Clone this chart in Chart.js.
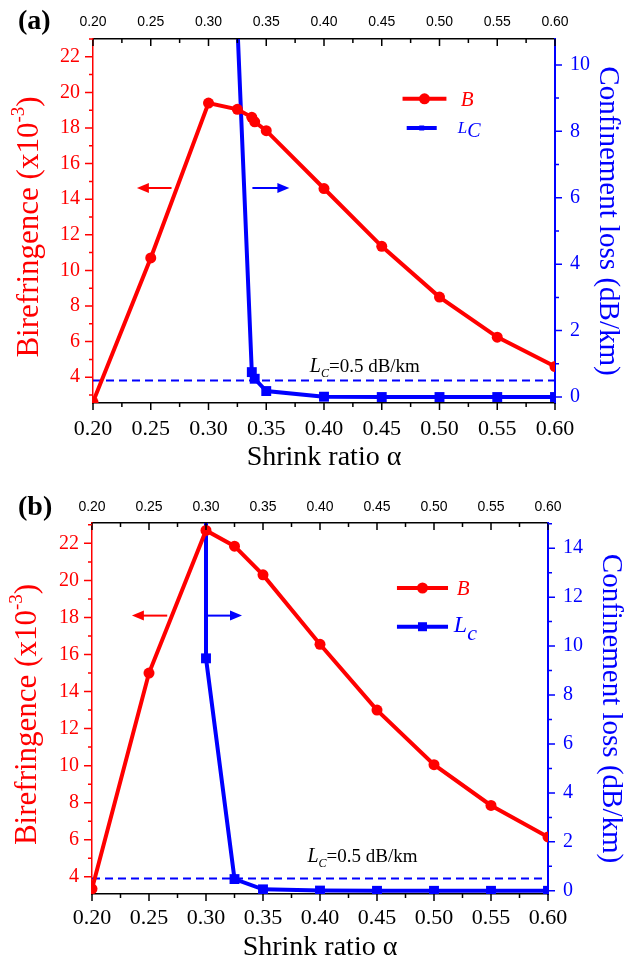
<!DOCTYPE html>
<html>
<head>
<meta charset="utf-8">
<script src="https://cdn.jsdelivr.net/npm/chart.js@4.4.1/dist/chart.umd.min.js"></script>
<style>
  body { margin: 0; background: #fff; }
  canvas { display: block; }
</style>
</head>
<body>
<canvas id="chart-a" width="632" height="476"></canvas>
<canvas id="chart-b" width="632" height="486"></canvas>
<script>
// 축 눈금 (공통)
const alphaTicks = [0.20, 0.25, 0.30, 0.35, 0.40, 0.45, 0.50, 0.55, 0.60];
const alphaMinor = [0.225, 0.275, 0.325, 0.375, 0.425, 0.475, 0.525, 0.575];
const birefTicks = [4, 6, 8, 10, 12, 14, 16, 18, 20, 22];
const birefMinor = [3, 5, 7, 9, 11, 13, 15, 17, 19, 21, 23];

// (a) 데이터
const alphaB_a = [0.20, 0.25, 0.30, 0.325, 0.3375, 0.34, 0.35, 0.40, 0.45, 0.50, 0.55, 0.60];
const biref_a = [2.6, 10.7, 19.4, 19.05, 18.6, 18.35, 17.85, 14.6, 11.35, 8.5, 6.25, 4.6];
const alphaLc_a = [0.325, 0.3375, 0.34, 0.35, 0.40, 0.45, 0.50, 0.55, 0.60];
const loss_a = [11.2, 0.75, 0.55, 0.18, 0.01, 0, 0, 0, 0];
const lossTicks_a = [0, 2, 4, 6, 8, 10];
const lossMinor_a = [1, 3, 5, 7, 9];

// (b) 데이터
const alphaB_b = [0.20, 0.25, 0.30, 0.325, 0.35, 0.40, 0.45, 0.50, 0.55, 0.60];
const biref_b = [3.35, 15.0, 22.7, 21.85, 20.3, 16.55, 13.0, 10.05, 7.85, 6.15];
const alphaLc_b = [0.30, 0.30, 0.325, 0.35, 0.40, 0.45, 0.50, 0.55, 0.60];
const loss_b = [16, 9.5, 0.48, 0.06, 0.01, 0, 0, 0, 0];
const lossTicks_b = [0, 2, 4, 6, 8, 10, 12, 14];
const lossMinor_b = [1, 3, 5, 7, 9, 11, 13, 15];

// 기준 손실 0.5 dB/km
const lcLimit = 0.5;

const SERIF = '"Liberation Serif", "Times New Roman", serif';
const SANS = '"Liberation Sans", Arial, sans-serif';
const RED = '#ff0000';
const BLUE = '#0000ff';

function toPts(xs, ys) {
    return xs.map((x, i) => ({ x, y: ys[i] }));
}

// 축 바깥/안쪽 눈금 그리기
function tickMarks(ctx, scale, values, len, color) {
    const area = scale.chart.chartArea;
    ctx.strokeStyle = color;
    ctx.lineWidth = 1.5;
    ctx.beginPath();
    values.forEach(v => {
        if (v < scale.min || v > scale.max) return;
        const p = scale.getPixelForValue(v);
        if (scale.position === 'bottom') { ctx.moveTo(p, area.bottom); ctx.lineTo(p, area.bottom + len); }
        if (scale.position === 'top') { ctx.moveTo(p, area.top); ctx.lineTo(p, area.top + len); }
        if (scale.position === 'left') { ctx.moveTo(area.left, p); ctx.lineTo(area.left - len, p); }
        if (scale.position === 'right') { ctx.moveTo(area.right, p); ctx.lineTo(area.right + len, p); }
    });
    ctx.stroke();
}

function arrow(ctx, x1, x2, y, color, headLeft) {
    const head = 12, half = 5;
    ctx.strokeStyle = color;
    ctx.fillStyle = color;
    ctx.lineWidth = 2;
    ctx.beginPath();
    if (headLeft) { ctx.moveTo(x2, y); ctx.lineTo(x1 + head - 1, y); }
    else { ctx.moveTo(x1, y); ctx.lineTo(x2 - head + 1, y); }
    ctx.stroke();
    ctx.beginPath();
    if (headLeft) { ctx.moveTo(x1, y); ctx.lineTo(x1 + head, y - half); ctx.lineTo(x1 + head, y + half); }
    else { ctx.moveTo(x2, y); ctx.lineTo(x2 - head, y - half); ctx.lineTo(x2 - head, y + half); }
    ctx.closePath();
    ctx.fill();
}

// 글자 조각(첨자 포함)을 이어서 그림
function richText(ctx, parts, x, y) {
    parts.forEach(p => {
        ctx.font = p.font;
        ctx.fillStyle = p.color;
        ctx.fillText(p.text, x, y + (p.dy || 0));
        x += ctx.measureText(p.text).width + (p.gap || 0);
    });
}

function richWidth(ctx, parts) {
    return parts.reduce((w, p) => { ctx.font = p.font; return w + ctx.measureText(p.text).width + (p.gap || 0); }, 0);
}

const panelDeco = {
    id: 'panelDeco',
    afterDraw(chart, args, o) {
        const ctx = chart.ctx;
        const { x, xTop, y, y2 } = chart.scales;
        const area = chart.chartArea;
        ctx.save();

        // 눈금
        tickMarks(ctx, x, alphaTicks, 7, '#000');
        tickMarks(ctx, x, alphaMinor, 4, '#000');
        tickMarks(ctx, xTop, alphaTicks, 7, '#000');
        tickMarks(ctx, xTop, alphaMinor, 4, '#000');
        tickMarks(ctx, y, birefTicks, 8, RED);
        tickMarks(ctx, y, birefMinor, 4, RED);
        tickMarks(ctx, y2, o.lossTicks, 7, BLUE);
        tickMarks(ctx, y2, o.lossMinor, 4, BLUE);

        // 패널 이름
        ctx.fillStyle = '#000';
        ctx.font = 'bold 28px ' + SERIF;
        ctx.textBaseline = 'alphabetic';
        ctx.fillText(o.tag, 18, o.tagY);

        // 왼쪽 축 제목 (위첨자 포함)
        const main = '31px ' + SERIF, sup = '19px ' + SERIF;
        const titleParts = [
            { text: 'Birefringence (x10', font: main, color: RED },
            { text: '-3', font: sup, color: RED, dy: -11 },
            { text: ')', font: main, color: RED }
        ];
        ctx.save();
        ctx.translate(o.leftTitleX, (area.top + area.bottom) / 2 + 6);
        ctx.rotate(-Math.PI / 2);
        ctx.textBaseline = 'middle';
        richText(ctx, titleParts, -richWidth(ctx, titleParts) / 2, 0);
        ctx.restore();

        // 방향 화살표
        const ay = y.getPixelForValue(o.arrowY);
        arrow(ctx, x.getPixelForValue(o.redArrow[0]), x.getPixelForValue(o.redArrow[1]), ay, RED, true);
        arrow(ctx, x.getPixelForValue(o.blueArrow[0]), x.getPixelForValue(o.blueArrow[1]), ay, BLUE, false);

        // 범례
        const lx1 = x.getPixelForValue(o.legendX[0]), lx2 = x.getPixelForValue(o.legendX[1]);
        const lxm = (lx1 + lx2) / 2;
        const bY = y.getPixelForValue(o.legendY[0]);
        const cY = y.getPixelForValue(o.legendY[1]);
        ctx.lineWidth = 4;
        ctx.strokeStyle = RED;
        ctx.beginPath(); ctx.moveTo(lx1, bY); ctx.lineTo(lx2, bY); ctx.stroke();
        ctx.fillStyle = RED;
        ctx.beginPath(); ctx.arc(lxm, bY, 5.5, 0, Math.PI * 2); ctx.fill();
        const cx1 = x.getPixelForValue(o.legendLcX[0]), cx2 = x.getPixelForValue(o.legendLcX[1]);
        ctx.strokeStyle = BLUE;
        ctx.beginPath(); ctx.moveTo(cx1, cY); ctx.lineTo(cx2, cY); ctx.stroke();
        ctx.fillStyle = BLUE;
        const sq = o.legendSquare;
        ctx.fillRect((cx1 + cx2) / 2 - sq / 2, cY - sq / 2, sq, sq);
        ctx.textBaseline = 'alphabetic';
        const tx = x.getPixelForValue(o.legendTextX);
        richText(ctx, [{ text: 'B', font: 'italic 21px ' + SERIF, color: RED }], tx, bY + 7);
        richText(ctx, o.lcLabel, tx - 3, cY + 5);

        // 기준선 주석
        const nx = x.getPixelForValue(o.noteAt[0]);
        const ny = y2.getPixelForValue(o.noteAt[1]);
        richText(ctx, [
            { text: 'L', font: 'italic 20px ' + SERIF, color: '#000' },
            { text: 'C', font: 'italic 12px ' + SERIF, color: '#000', dy: 5 },
            { text: '=0.5 dB/km', font: '19px ' + SERIF, color: '#000' }
        ], nx, ny);

        ctx.restore();
    }
};

function makePanel(id, cfg) {
    const H = cfg.height, W = 632, A = cfg.area;
    const tickFont = size => ({ family: SERIF, size });
    return new Chart(document.getElementById(id), {
        type: 'line',
        data: {
            datasets: [
                {
                    label: 'B', data: toPts(cfg.alphaB, cfg.biref), yAxisID: 'y',
                    borderColor: RED, backgroundColor: RED, borderWidth: 4,
                    pointStyle: 'circle', pointRadius: 5.5, pointBorderWidth: 0, tension: 0, order: 0
                },
                {
                    label: 'Lc', data: toPts(cfg.alphaLc, cfg.loss), yAxisID: 'y2',
                    borderColor: BLUE, backgroundColor: BLUE, borderWidth: 4,
                    pointStyle: 'rect', pointRadius: 7, pointBorderWidth: 0, tension: 0, order: 1
                },
                {
                    label: 'limit', data: [{ x: 0.2, y: lcLimit }, { x: 0.6, y: lcLimit }], yAxisID: 'y2',
                    borderColor: BLUE, borderWidth: 2, borderDash: [8, 5], pointRadius: 0, order: 2
                }
            ]
        },
        options: {
            responsive: false,
            animation: false,
            layout: { padding: 0 },
            plugins: {
                legend: { display: false },
                tooltip: { enabled: false },
                panelDeco: cfg.deco
            },
            scales: {
                x: {
                    type: 'linear', position: 'bottom', min: 0.2, max: 0.6,
                    afterBuildTicks: s => { s.ticks = alphaTicks.map(v => ({ value: v })); },
                    afterFit: s => { s.height = H - A.bottom; },
                    grid: { display: false, drawTicks: false },
                    border: { display: true, color: '#000', width: 1.5 },
                    ticks: { color: '#000', font: tickFont(22), padding: cfg.xPad, maxRotation: 0, autoSkip: false, callback: v => v.toFixed(2) },
                    title: { display: true, text: 'Shrink ratio α', color: '#000', font: { family: SERIF, size: 28, lineHeight: 1 }, padding: { top: 0, bottom: cfg.xTitlePad } }
                },
                xTop: {
                    axis: 'x', type: 'linear', position: 'top', min: 0.2, max: 0.6,
                    afterBuildTicks: s => { s.ticks = alphaTicks.map(v => ({ value: v })); },
                    afterFit: s => { s.height = A.top; },
                    grid: { display: false, drawTicks: false },
                    border: { display: true, color: '#000', width: 1.5 },
                    ticks: { color: '#000', font: { family: SANS, size: 14 }, padding: cfg.topPad, maxRotation: 0, autoSkip: false, callback: v => v.toFixed(2) }
                },
                y: {
                    type: 'linear', position: 'left', min: cfg.birefRange[0], max: cfg.birefRange[1],
                    afterBuildTicks: s => { s.ticks = birefTicks.map(v => ({ value: v })); },
                    afterFit: s => { s.width = A.left; },
                    grid: { display: false, drawTicks: false },
                    border: { display: true, color: RED, width: 1.5 },
                    ticks: { color: RED, font: tickFont(20), padding: 13, autoSkip: false }
                },
                y2: {
                    type: 'linear', position: 'right', min: cfg.lossRange[0], max: cfg.lossRange[1],
                    afterBuildTicks: s => { s.ticks = cfg.lossTicks.map(v => ({ value: v })); },
                    afterFit: s => { s.width = W - A.right; },
                    grid: { display: false, drawTicks: false },
                    border: { display: true, color: BLUE, width: 2 },
                    ticks: { color: BLUE, font: tickFont(20), padding: 15, autoSkip: false },
                    title: { display: true, text: 'Confinement loss (dB/km)', color: BLUE, font: { family: SERIF, size: 29, lineHeight: 1 }, padding: { top: cfg.rightTitlePad, bottom: 0 } }
                }
            }
        },
        plugins: [panelDeco]
    });
}

makePanel('chart-a', {
    height: 476,
    area: { left: 93, right: 555, top: 39, bottom: 403 },
    alphaB: alphaB_a, biref: biref_a, alphaLc: alphaLc_a, loss: loss_a,
    birefRange: [2.55, 23.0], lossRange: [-0.18, 10.78], lossTicks: lossTicks_a,
    xPad: 13, xTitlePad: 4, topPad: 8, rightTitlePad: 10,
    deco: {
        tag: '(a)', tagY: 29, leftTitleX: 30,
        lossTicks: lossTicks_a, lossMinor: lossMinor_a,
        arrowY: 14.63, redArrow: [0.238, 0.268], blueArrow: [0.338, 0.370],
        legendX: [0.468, 0.506], legendLcX: [0.4716, 0.4976], legendY: [19.64, 18.0],
        legendSquare: 5, legendTextX: 0.5185,
        lcLabel: [
            { text: 'L', font: 'italic 17px ' + SERIF, color: BLUE },
            { text: 'C', font: 'italic 20px ' + SERIF, color: BLUE, dy: 4 }
        ],
        noteAt: [0.3877, 0.76]
    }
});

makePanel('chart-b', {
    height: 486,
    area: { left: 92, right: 548, top: 47, bottom: 418 },
    alphaB: alphaB_b, biref: biref_b, alphaLc: alphaLc_b, loss: loss_b,
    birefRange: [3.07, 23.1], lossRange: [-0.13, 15.03], lossTicks: lossTicks_b,
    xPad: 11, xTitlePad: 0, topPad: 7, rightTitlePad: 6.5,
    deco: {
        tag: '(b)', tagY: 39, leftTitleX: 28,
        lossTicks: lossTicks_b, lossMinor: lossMinor_b,
        arrowY: 18.1, redArrow: [0.235, 0.266], blueArrow: [0.30, 0.3316],
        legendX: [0.4675, 0.5123], legendLcX: [0.4675, 0.5123], legendY: [19.59, 17.5],
        legendSquare: 9, legendTextX: 0.52,
        lcLabel: [
            { text: 'L', font: 'italic 24px ' + SERIF, color: BLUE },
            { text: 'c', font: 'italic 22px ' + SERIF, color: BLUE, dy: 8 }
        ],
        noteAt: [0.389, 1.17]
    }
});
</script>
</body>
</html>
